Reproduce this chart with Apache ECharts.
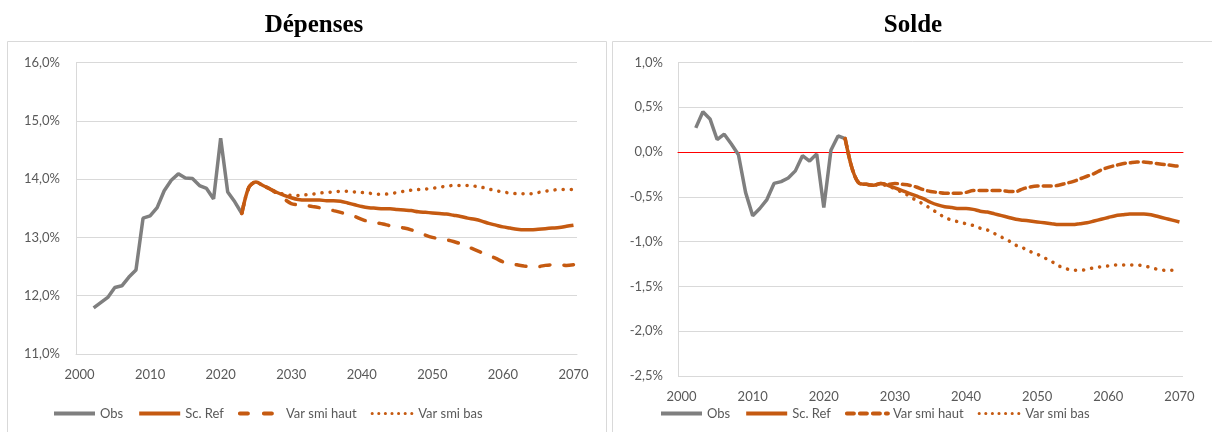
<!DOCTYPE html>
<html>
<head>
<meta charset="utf-8">
<script src="https://cdn.jsdelivr.net/npm/echarts@6/dist/echarts.min.js"></script>
<style>
  html, body { margin: 0; padding: 0; background: #fff; }
  #myChart { width: 1212px; height: 432px; }
</style>
</head>
<body>
<div id="myChart"></div>
<script>
// years on the category axis, one label every 10 years
var years = [];
for (var y = 2000; y <= 2070; y++) years.push(String(y));

var seriesNames = ['Obs', 'Sc. Ref', 'Var smi haut', 'Var smi bas'];

// Dépenses (% PIB) - Obs from 2002, projections from 2023
var depObs = [11.79, 11.88, 11.97, 12.14, 12.17, 12.32, 12.44, 13.33, 13.37, 13.51, 13.80, 13.98, 14.09, 14.02, 14.01, 13.89, 13.84, 13.66, 14.70, 13.78, 13.61, 13.41];
var depRef = [13.41, 13.86, 13.95, 13.89, 13.83, 13.77, 13.72, 13.68, 13.65, 13.64,
	13.64, 13.64, 13.63, 13.63, 13.62, 13.59, 13.56, 13.53, 13.51, 13.50,
	13.49, 13.49, 13.48, 13.47, 13.46, 13.44, 13.43, 13.42, 13.41, 13.40,
	13.38, 13.36, 13.33, 13.31, 13.28, 13.24, 13.21, 13.18, 13.16, 13.14,
	13.13, 13.13, 13.14, 13.15, 13.16, 13.17, 13.19, 13.21];
var depHaut = [13.41, 13.86, 13.95, 13.89, 13.83, 13.75, 13.66, 13.58, 13.56, 13.55,
	13.53, 13.51, 13.49, 13.46, 13.43, 13.39, 13.36, 13.31, 13.27, 13.25,
	13.23, 13.20, 13.18, 13.16, 13.13, 13.09, 13.04, 13.00, 12.98, 12.96,
	12.93, 12.89, 12.84, 12.79, 12.74, 12.69, 12.64, 12.58, 12.55, 12.53,
	12.51, 12.50, 12.50, 12.52, 12.53, 12.53, 12.52, 12.53];
var depBas = [13.41, 13.86, 13.95, 13.89, 13.83, 13.77, 13.74, 13.72, 13.72, 13.73,
	13.74, 13.76, 13.77, 13.78, 13.79, 13.79, 13.78, 13.77, 13.76, 13.74,
	13.74, 13.75, 13.77, 13.79, 13.81, 13.82, 13.83, 13.84, 13.86, 13.88,
	13.89, 13.89, 13.89, 13.88, 13.86, 13.83, 13.80, 13.78, 13.76, 13.75,
	13.75, 13.75, 13.77, 13.79, 13.81, 13.82, 13.82, 13.82];

// Solde (% PIB)
var solObs = [0.27, 0.45, 0.37, 0.14, 0.20, 0.09, -0.03, -0.45, -0.71, -0.63, -0.53, -0.35, -0.33, -0.29, -0.21, -0.04, -0.10, -0.02, -0.62, 0.02, 0.18, 0.15];
var solRef = [0.15, -0.19, -0.35, -0.36, -0.37, -0.35, -0.37, -0.40, -0.43, -0.46,
	-0.49, -0.52, -0.56, -0.59, -0.61, -0.62, -0.63, -0.63, -0.64, -0.66,
	-0.67, -0.69, -0.71, -0.73, -0.75, -0.76, -0.77, -0.78, -0.79, -0.80,
	-0.81, -0.81, -0.81, -0.80, -0.79, -0.77, -0.75, -0.73, -0.71, -0.70,
	-0.69, -0.69, -0.69, -0.70, -0.72, -0.74, -0.76, -0.78];
var solHaut = [0.15, -0.19, -0.35, -0.36, -0.37, -0.35, -0.36, -0.35, -0.36, -0.37,
	-0.39, -0.42, -0.44, -0.45, -0.46, -0.46, -0.46, -0.45, -0.43, -0.43,
	-0.43, -0.43, -0.43, -0.44, -0.44, -0.41, -0.39, -0.38, -0.38, -0.38,
	-0.37, -0.35, -0.33, -0.30, -0.27, -0.24, -0.20, -0.17, -0.15, -0.13,
	-0.12, -0.11, -0.11, -0.12, -0.13, -0.14, -0.15, -0.16];
var solBas = [0.15, -0.19, -0.35, -0.36, -0.37, -0.36, -0.38, -0.41, -0.45, -0.49,
	-0.54, -0.58, -0.63, -0.68, -0.73, -0.76, -0.78, -0.80, -0.82, -0.85,
	-0.87, -0.91, -0.95, -0.99, -1.04, -1.07, -1.11, -1.14, -1.18, -1.22,
	-1.27, -1.30, -1.32, -1.32, -1.31, -1.29, -1.28, -1.27, -1.26, -1.26,
	-1.26, -1.26, -1.27, -1.29, -1.31, -1.32, -1.32, -1.33];

var obsStart = 2002, projStart = 2023;

// put values on the year axis (nulls before the first year)
function onYears(start, values) {
	var out = [];
	for (var i = 0; i < years.length; i++) {
		var k = Number(years[i]) - start;
		out.push(k >= 0 && k < values.length ? values[k] : null);
	}
	return out;
}

var GREY = '#7f7f7f', ORANGE = '#c55a11', TXT = '#595959', GRID = '#d9d9d9';
var FONT = 'Lato';
var DOTS = [0.1, 8];

function pct(v) {
	return v.toFixed(1).replace('.', ',') + '%';
}

function mkSeries(idx, data, dashHaut) {
	var common = { type: 'line', xAxisIndex: idx, yAxisIndex: idx, symbol: 'none', animation: false };
	return [
		Object.assign({}, common, { name: 'Obs', data: onYears(obsStart, data[0]),
			lineStyle: { color: GREY, width: 3.5 }, itemStyle: { color: GREY } }),
		Object.assign({}, common, { name: 'Sc. Ref', data: onYears(projStart, data[1]), smooth: 0.3,
			lineStyle: { color: ORANGE, width: 3.5 }, itemStyle: { color: ORANGE } }),
		Object.assign({}, common, { name: 'Var smi haut', data: onYears(projStart, data[2]), smooth: 0.3,
			lineStyle: { color: ORANGE, width: 3.5, type: dashHaut, cap: 'round' }, itemStyle: { color: ORANGE } }),
		Object.assign({}, common, { name: 'Var smi bas', data: onYears(projStart, data[3]), smooth: 0.3,
			lineStyle: { color: ORANGE, width: 3.5, type: DOTS, cap: 'round' }, itemStyle: { color: ORANGE } })
	];
}

function mkLegend(left, dashHaut) {
	var hide = { opacity: 0, color: 'transparent', borderWidth: 0 };
	return {
		left: left, top: 407, padding: 0, itemWidth: 41, itemHeight: 8, itemGap: 14,
		textStyle: { color: TXT, fontSize: 13, fontFamily: FONT },
		itemStyle: hide,
		data: [
			{ name: 'Obs', itemStyle: hide, lineStyle: { color: GREY, width: 4 } },
			{ name: 'Sc. Ref', itemStyle: hide, lineStyle: { color: ORANGE, width: 4 } },
			{ name: 'Var smi haut', itemStyle: hide, lineStyle: { color: ORANGE, width: 4, type: dashHaut, cap: 'round' } },
			{ name: 'Var smi bas', itemStyle: hide, lineStyle: { color: ORANGE, width: 3, type: [0.1, 6.5], cap: 'round' } }
		]
	};
}

var myChart = echarts.init(document.getElementById('myChart'));

var option = {
	backgroundColor: '#fff',
	animation: false,
	title: [
		{ text: 'Dépenses', left: 309, top: 8, textAlign: 'center',
			textStyle: { fontFamily: 'Liberation Serif', fontWeight: 'bold', fontSize: 25, color: '#000' } },
		{ text: 'Solde', left: 908, top: 8, textAlign: 'center',
			textStyle: { fontFamily: 'Liberation Serif', fontWeight: 'bold', fontSize: 25, color: '#000' } }
	],
	graphic: [
		{ type: 'rect', silent: true, shape: { x: 7.5, y: 41.5, width: 599, height: 400 },
			style: { fill: 'none', stroke: GRID, lineWidth: 1 } },
		{ type: 'rect', silent: true, shape: { x: 612.5, y: 41.5, width: 610, height: 400 },
			style: { fill: 'none', stroke: GRID, lineWidth: 1 } }
	],
	legend: [mkLegend(52, [8, 16]), mkLegend(659, [7, 6])],
	grid: [
		{ left: 76, right: 635, top: 62.5, bottom: 78 },
		{ left: 678, right: 29, top: 62.5, bottom: 56 }
	],
	xAxis: [
		{ gridIndex: 0, type: 'category', data: years, boundaryGap: true,
			axisLine: { lineStyle: { color: GRID } }, axisTick: { show: false },
			axisLabel: { interval: 9, margin: 14, color: TXT, fontSize: 13, fontFamily: FONT } },
		{ gridIndex: 1, type: 'category', data: years, boundaryGap: true,
			axisLine: { onZero: true, lineStyle: { color: '#ff0000', width: 1 } }, axisTick: { show: false },
			axisLabel: { interval: 9, margin: 14, color: TXT, fontSize: 13, fontFamily: FONT } }
	],
	yAxis: [
		{ gridIndex: 0, type: 'value', min: 11, max: 16, interval: 1,
			axisLine: { show: true, lineStyle: { color: GRID } },
			splitLine: { lineStyle: { color: GRID } },
			axisLabel: { margin: 16, color: TXT, fontSize: 13, fontFamily: FONT, formatter: pct } },
		{ gridIndex: 1, type: 'value', min: -2.5, max: 1, interval: 0.5,
			axisLine: { show: true, onZero: false, lineStyle: { color: GRID } },
			splitLine: { lineStyle: { color: GRID } },
			axisLabel: { margin: 15, color: TXT, fontSize: 13, fontFamily: FONT, formatter: pct } }
	],
	series: mkSeries(0, [depObs, depRef, depHaut, depBas], [10, 14])
		.concat(mkSeries(1, [solObs, solRef, solHaut, solBas], [8, 5]))
};

myChart.setOption(option);
</script>
</body>
</html>
